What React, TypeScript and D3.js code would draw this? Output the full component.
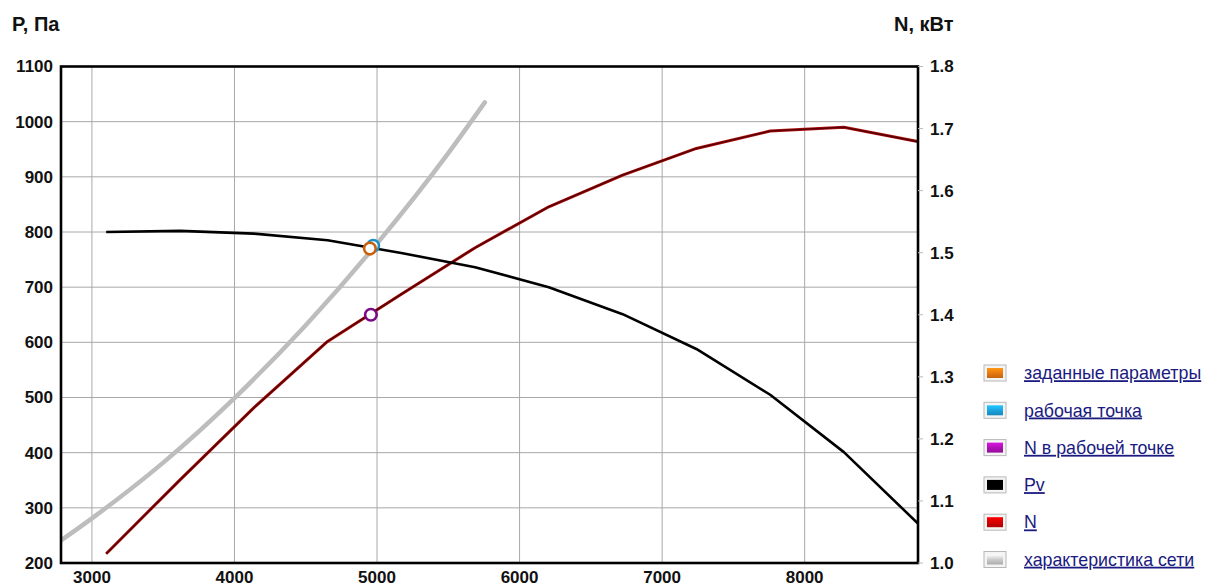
import React from "react";
import * as d3 from "d3";

const flowX = [3100, 3618, 4135, 4653, 5170, 5688, 6205, 6723, 7240, 7758, 8275, 8793];
const pvValues = [800, 802, 797, 785, 762, 736, 700, 651, 588, 505, 401, 272];
const nValues = [1.015, 1.134, 1.25, 1.357, 1.433, 1.508, 1.574, 1.625, 1.668, 1.696, 1.702, 1.679];
const netX = [2783, 3000, 3500, 4000, 4500, 5000, 5500, 5756];
const netP = [241, 281, 382, 499, 631, 779, 943, 1035];
const givenPoint = { x: 4950, p: 770 };
const workPoint = { x: 4973, p: 775 };
const nWorkPoint = { x: 4957, n: 1.4 };
const xTicks = [3000, 4000, 5000, 6000, 7000, 8000];
const pTicks = [200, 300, 400, 500, 600, 700, 800, 900, 1000, 1100];
const nTicks = [1.0, 1.1, 1.2, 1.3, 1.4, 1.5, 1.6, 1.7, 1.8];
const legendItems = [
  { label: "заданные параметры", color: "#e87a10" },
  { label: "рабочая точка", color: "#1ba3e0" },
  { label: "N в рабочей точке", color: "#b010b8" },
  { label: "Pv", color: "#000000" },
  { label: "N", color: "#d40000" },
  { label: "характеристика сети", color: "#cccccc" },
];

const W = 1208, H = 588;
const L = 61, R = 918, T = 66.5, B = 563;
const FONT = "'Liberation Sans', Arial, sans-serif";

export default function App() {
  const x = d3.scaleLinear().domain([2783, 8795]).range([L, R]);
  const yP = d3.scaleLinear().domain([200, 1100]).range([B, T]);
  const yN = d3.scaleLinear().domain([1.0, 1.8]).range([B, T]);

  const pvLine = d3.line<number>().x((_, i) => x(flowX[i])).y((d) => yP(d));
  const nLine = d3.line<number>().x((_, i) => x(flowX[i])).y((d) => yN(d));
  const netLine = d3
    .line<number>()
    .x((_, i) => x(netX[i]))
    .y((d) => yP(d))
    .curve(d3.curveMonotoneX);

  return (
    <svg width={W} height={H} style={{ position: "absolute", left: 0, top: 0, background: "#fff" }} fontFamily={FONT}>
      <defs>
        <clipPath id="plot">
          <rect x={L} y={T} width={R - L} height={B - T} />
        </clipPath>
        <filter id="blur" x="-5%" y="-5%" width="110%" height="110%">
          <feGaussianBlur stdDeviation="0.6" />
        </filter>
        {legendItems.map((it, i) => (
          <linearGradient key={i} id={`lg${i}`} x1="0" y1="0" x2="0" y2="1">
            <stop offset="0" stopColor={d3.color(it.color)!.brighter(0.6).formatHex()} />
            <stop offset="0.5" stopColor={it.color} />
            <stop offset="1" stopColor={d3.color(it.color)!.darker(0.5).formatHex()} />
          </linearGradient>
        ))}
      </defs>

      {/* grid */}
      {xTicks.map((t) => (
        <line key={"gx" + t} x1={x(t)} x2={x(t)} y1={T} y2={B} stroke="#a8a8a8" strokeWidth={1} />
      ))}
      {pTicks.map((t) => (
        <line key={"gy" + t} x1={L} x2={R} y1={yP(t)} y2={yP(t)} stroke="#a8a8a8" strokeWidth={1} />
      ))}

      <g clipPath="url(#plot)">
        <path d={netLine(netP)!} fill="none" stroke="#bdbdbd" strokeWidth={4.5} strokeLinecap="round" filter="url(#blur)" />
        <path d={nLine(nValues)!} fill="none" stroke="#b01010" strokeWidth={3} strokeLinejoin="round" />
        <path d={nLine(nValues)!} fill="none" stroke="#5a0000" strokeWidth={1.6} strokeLinejoin="round" />
        <path d={pvLine(pvValues)!} fill="none" stroke="#000" strokeWidth={2.6} strokeLinejoin="round" />
      </g>

      {/* points */}
      <circle cx={x(workPoint.x)} cy={yP(workPoint.p)} r={5.8} fill="#fff" stroke="#1b8fc8" strokeWidth={2.6} />
      <circle cx={x(givenPoint.x)} cy={yP(givenPoint.p)} r={5.8} fill="#fff" stroke="#c8620e" strokeWidth={2.6} />
      <circle cx={x(nWorkPoint.x)} cy={yN(nWorkPoint.n)} r={5.8} fill="#fff" stroke="#7c0a86" strokeWidth={2.6} />

      {/* frame */}
      <rect x={L} y={T} width={R - L} height={B - T} fill="none" stroke="#000" strokeWidth={2.6} />

      {/* right ticks */}
      {nTicks.map((t) => (
        <line key={"rt" + t} x1={R} x2={R + 5} y1={yN(t)} y2={yN(t)} stroke="#bbb" strokeWidth={1} />
      ))}

      {/* labels */}
      {pTicks.map((t) => (
        <text key={"pl" + t} x={53} y={yP(t)} dy="0.35em" textAnchor="end" fontSize={17} fontWeight="bold" fill="#111">
          {t}
        </text>
      ))}
      {nTicks.map((t) => (
        <text key={"nl" + t} x={930} y={yN(t)} dy="0.35em" textAnchor="start" fontSize={17} fontWeight="bold" fill="#111">
          {t.toFixed(1)}
        </text>
      ))}
      {xTicks.map((t) => (
        <text key={"xl" + t} x={x(t)} y={577.5} dy="0.35em" textAnchor="middle" fontSize={17} fontWeight="bold" fill="#111">
          {t}
        </text>
      ))}

      <text x={12} y={31} fontSize={20} fontWeight="bold" fill="#111">P, Па</text>
      <text x={894} y={31} fontSize={20} fontWeight="bold" fill="#111">N, кВт</text>

      {/* legend */}
      {legendItems.map((it, i) => {
        const cy = 373 + i * 37.3;
        return (
          <g key={"lg" + i}>
            <rect x={984} y={cy - 8} width={22} height={16} fill="#f4f4f4" stroke="#b8b8b8" strokeWidth={1} />
            <rect x={987} y={cy - 5} width={16} height={10} fill={`url(#lg${i})`} />
            <text x={1024} y={cy} dy="0.35em" fontSize={17.8} fill="#1a1a80" textDecoration="underline">
              {it.label}
            </text>
          </g>
        );
      })}
    </svg>
  );
}
